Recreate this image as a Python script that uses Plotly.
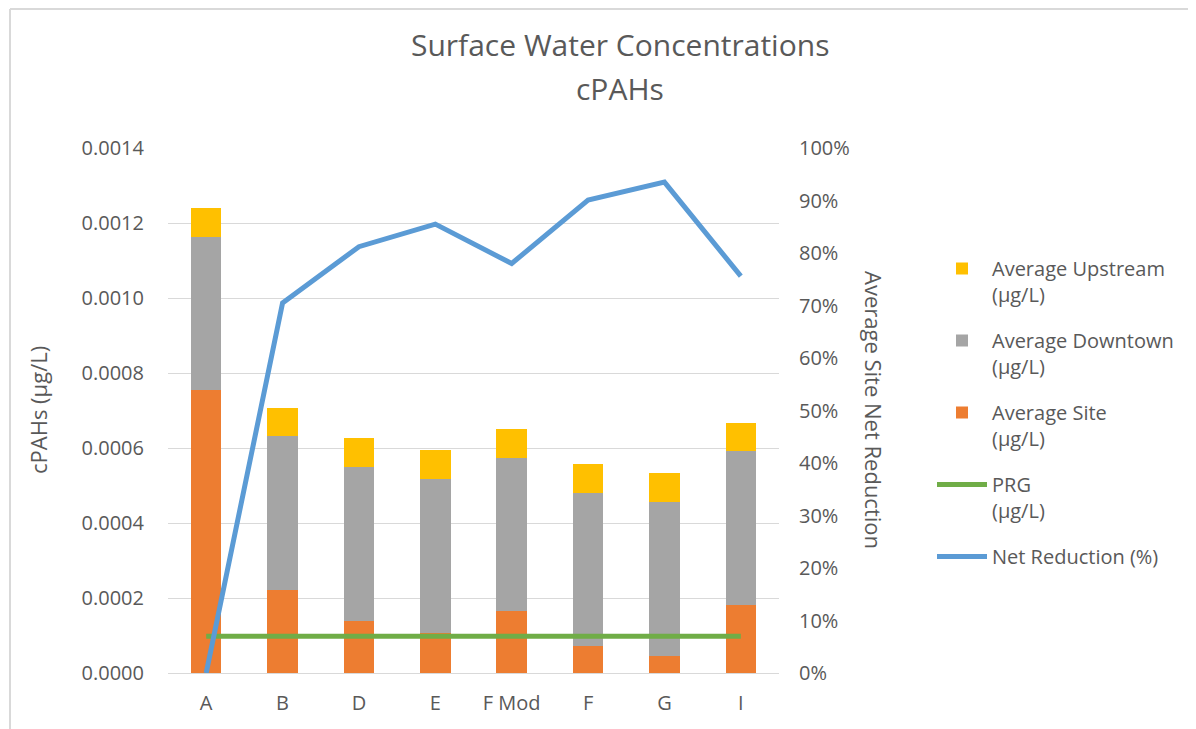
import plotly.graph_objects as go

categories = ["A", "B", "D", "E", "F Mod", "F", "G", "I"]
avg_site = [0.000754, 0.000222, 0.000139, 0.000108, 0.000165, 0.000072, 0.0000453, 0.000182]
avg_downtown = [0.000408, 0.000409, 0.000410, 0.000409, 0.000409, 0.000409, 0.000411, 0.000409]
avg_upstream = [0.000079, 0.000077, 0.000078, 0.000079, 0.000078, 0.000077, 0.000078, 0.000077]
prg = [0.000098] * 8
net_reduction = [0.0, 0.705, 0.812, 0.855, 0.780, 0.901, 0.935, 0.756]
left_ticks = [0, 0.0002, 0.0004, 0.0006, 0.0008, 0.0010, 0.0012, 0.0014]

FONT = "Open Sans"
TXT = "#595959"

OFF = 8  # page body margin in the browser
W, H = 1196 - OFF, 729 - OFF
# plot area in reference (screen) coordinates
L, R, T, B = 168, 779, 148, 673
pw, ph = R - L, B - T


def px(x):
    return (x - L) / pw


def py(y):
    return (B - y) / ph


fig = go.Figure()
fig.add_trace(go.Bar(x=categories, y=avg_site, name="Average Site<br>(µg/L)",
                     marker=dict(color="#ED7D31", line=dict(width=0)), width=0.4,
                     legendgroup="c", legendrank=3))
fig.add_trace(go.Bar(x=categories, y=avg_downtown, name="Average Downtown<br>(µg/L)",
                     marker=dict(color="#A5A5A5", line=dict(width=0)), width=0.4,
                     legendgroup="b", legendrank=2))
fig.add_trace(go.Bar(x=categories, y=avg_upstream, name="Average Upstream<br>(µg/L)",
                     marker=dict(color="#FFC000", line=dict(width=0)), width=0.4,
                     legendgroup="a", legendrank=1))
fig.add_trace(go.Scatter(x=categories, y=prg, name="PRG<br>(µg/L)", mode="lines",
                         line=dict(color="#70AD47", width=5), legendgroup="d", legendrank=4))
fig.add_trace(go.Scatter(x=categories, y=net_reduction, name="Net Reduction (%)", mode="lines",
                         line=dict(color="#5B9BD5", width=5), yaxis="y2",
                         legendgroup="e", legendrank=5))

fig.update_layout(
    width=W, height=H,
    margin=dict(l=L - OFF, r=W - (R - OFF), t=T - OFF, b=H - (B - OFF)),
    barmode="stack",
    plot_bgcolor="white", paper_bgcolor="white",
    font=dict(family=FONT, size=20, color=TXT),
    xaxis=dict(showgrid=False, showline=True, linecolor="#D9D9D9", linewidth=1,
               ticks="", tickfont=dict(size=20, color=TXT), ticklabelstandoff=12),
    yaxis=dict(range=[0, 0.0014], tickvals=left_ticks, tickformat=".4f",
               showgrid=True, gridcolor="#D9D9D9", gridwidth=1, zeroline=False,
               ticks="", tickfont=dict(size=20, color=TXT), ticklabelstandoff=23),
    yaxis2=dict(range=[0, 1], dtick=0.1, tickformat=".0%", overlaying="y", side="right",
                showgrid=False, zeroline=False, ticks="",
                tickfont=dict(size=20, color=TXT), ticklabelstandoff=19),
    legend=dict(x=px(932), y=py(249), xanchor="left", yanchor="top",
                traceorder="grouped", tracegroupgap=17, valign="top",
                itemwidth=50, font=dict(size=20, color=TXT), bgcolor="rgba(0,0,0,0)"),
    showlegend=True,
)

fig.add_annotation(text="Surface Water Concentrations", x=px(620), y=py(45), xref="paper", yref="paper",
                   showarrow=False, font=dict(size=30, color=TXT, family=FONT), xanchor="center", yanchor="middle")
fig.add_annotation(text="cPAHs", x=px(620), y=py(89), xref="paper", yref="paper",
                   showarrow=False, font=dict(size=30, color=TXT, family=FONT), xanchor="center", yanchor="middle")
fig.add_annotation(text="cPAHs (µg/L)", x=px(38), y=py(410), xref="paper", yref="paper", textangle=-90,
                   showarrow=False, font=dict(size=22, color=TXT, family=FONT), xanchor="center", yanchor="middle")
fig.add_annotation(text="Average Site Net Reduction", x=px(874), y=py(410), xref="paper", yref="paper", textangle=90,
                   showarrow=False, font=dict(size=22, color=TXT, family=FONT), xanchor="center", yanchor="middle")

# chart-area border (top and left edges visible in the reference)
fig.add_shape(type="line", xref="paper", yref="paper", x0=px(10), y0=py(9), x1=px(1300), y1=py(9),
              line=dict(color="#D9D9D9", width=2), layer="below")
fig.add_shape(type="line", xref="paper", yref="paper", x0=px(10), y0=py(9), x1=px(10), y1=py(800),
              line=dict(color="#D9D9D9", width=2), layer="below")

fig.write_html("out.html")
